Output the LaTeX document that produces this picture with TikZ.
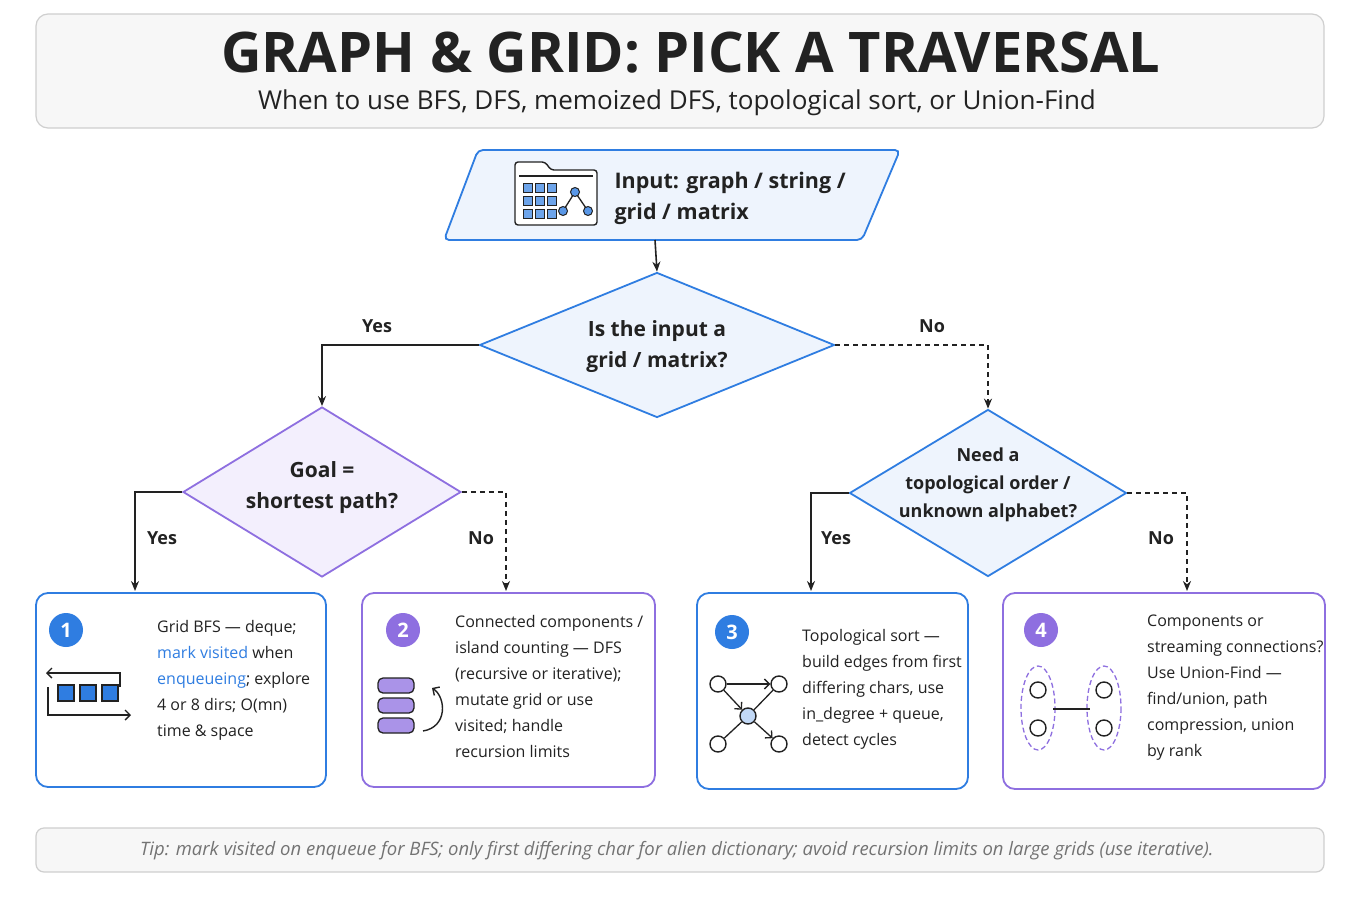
\documentclass[tikz,border=0pt]{standalone}
\usepackage{fontspec}
\setmainfont{Open Sans}
\usetikzlibrary{arrows.meta,shapes.geometric}
\definecolor{blu}{HTML}{2F7DE1}
\definecolor{blufill}{HTML}{EEF4FD}
\definecolor{pur}{HTML}{8E6FE0}
\definecolor{purfill}{HTML}{F3EFFD}
\definecolor{txt}{HTML}{222222}
\definecolor{gbord}{HTML}{CFCFCF}
\definecolor{gfill}{HTML}{F7F7F7}
\newcommand{\fs}[2]{\fontsize{#1}{#2}\selectfont}
\tikzset{
  x=1pt,y=-1pt,
  conn/.style={line width=1.6pt,draw=txt,-{Stealth[length=10pt,width=8pt]}},
  dconn/.style={conn,dash pattern=on 5pt off 4pt},
  lab/.style={text=txt,font=\fs{18}{22}\bfseries},
  card/.style={rounded corners=12pt,line width=1.8pt,fill=white},
  ctext/.style={anchor=north west,align=left,text=txt,font=\fs{16}{26},inner sep=0pt},
  badge/.style={circle,minimum size=34pt,inner sep=0pt,text=white,font=\fs{20}{24}\bfseries},
  dtext/.style={align=center,text=txt,font=\fs{21}{31}\bfseries},
  gn/.style={circle,draw=txt,line width=1.4pt,minimum size=16pt,inner sep=0pt,fill=white},
}
\begin{document}
\begin{tikzpicture}
\useasboundingbox (0,0) rectangle (1360,907);
\fill[white] (0,0) rectangle (1360,907);
% title
\draw[rounded corners=12pt,draw=gbord,fill=gfill,line width=1.2pt] (36,14) rectangle (1324,128);
\node[text=txt,font=\fs{56}{66}\bfseries] (title) at (691,53) {GRAPH \& GRID: PICK A TRAVERSAL};
\node[text=txt,font=\fs{26}{30}] (sub) at (677,103) {When to use BFS, DFS, memoized DFS, topological sort, or Union-Find};
% input
\draw[blu,fill=blufill,line width=1.8pt,rounded corners=5pt] (478,150) -- (900,150) -- (862,240) -- (444,240) -- cycle;
\coordinate (inb) at (655,240);
\node[anchor=west,align=left,text=txt,font=\fs{21.5}{31}\bfseries] (inp) at (611,198) {Input: graph / string /\\grid / matrix};
% folder icon
\draw[txt,line width=1.4pt,rounded corners=3pt,fill=white] (515,225) -- (515,162) -- (545,162) -- (551,170) -- (597,170) -- (597,225) -- cycle;
\draw[txt,line width=1.2pt] (519,176) -- (593,176);
\foreach \i in {0,1,2}{\foreach \j in {0,1,2}{
  \draw[txt,fill=blu!70,line width=0.8pt] (523+\i*12,183+\j*13) rectangle +(9,9);}}
\draw[txt,line width=1.3pt] (563,211) -- (575,192) -- (588,211);
\foreach \p in {(575,192),(563,211),(588,211)} \draw[txt,fill=blu!80,line width=1pt] \p circle (4.5);
% diamond 1
\node[diamond,aspect=2.45,draw=blu,fill=blufill,line width=1.8pt,minimum width=355pt,minimum height=145pt,inner sep=0pt] (d1) at (657,345) {};
\node[dtext] at (657,347) {Is the input a\\grid / matrix?};
\draw[conn] (inb) -- (d1.north);
% diamond 2
\node[diamond,aspect=1.62,draw=pur,fill=purfill,line width=1.8pt,minimum width=278pt,minimum height=170pt,inner sep=0pt] (d2) at (322,492) {};
\node[dtext] at (322,488) {Goal =\\shortest path?};
% diamond 3
\node[diamond,aspect=1.65,draw=blu,fill=blufill,line width=1.8pt,minimum width=277pt,minimum height=167pt,inner sep=0pt] (d3) at (988,493) {};
\node[align=center,text=txt,font=\fs{18}{28}\bfseries] at (988,485) {Need a\\topological order /\\unknown alphabet?};
% connectors
\draw[conn] (d1.west) -| (d2.north);
\node[lab] at (377,326) {Yes};
\draw[dconn] (d1.east) -| (d3.north);
\node[lab] at (932,326) {No};
% cards
\draw[card,draw=blu] (36,593) rectangle (326,787);
\draw[card,draw=pur] (362,593) rectangle (655,787);
\draw[card,draw=blu] (697,593) rectangle (968,789);
\draw[card,draw=pur] (1003,593) rectangle (1325,789);
\coordinate (c1) at (135,591); \coordinate (c2) at (506,591);
\coordinate (c3) at (811,591); \coordinate (c4) at (1187,591);
\draw[conn] (d2.west) -| (c1);
\node[lab] at (162,538) {Yes};
\draw[dconn] (d2.east) -| (c2);
\node[lab] at (481,538) {No};
\draw[conn] (d3.west) -| (c3);
\node[lab] at (836,538) {Yes};
\draw[dconn] (d3.east) -| (c4);
\node[lab] at (1161,538) {No};
% badges
\node[badge,fill=blu] (b1) at (66,630) {1};
\node[badge,fill=pur] (b2) at (403,630) {2};
\node[badge,fill=blu] (b3) at (732,632) {3};
\node[badge,fill=pur] (b4) at (1041,630) {4};
% card texts
\node[ctext] (t1) at (157,620) {Grid BFS — deque;\\\textcolor{blu}{mark visited} when\\\textcolor{blu}{enqueueing}; explore\\4 or 8 dirs; O(mn)\\time \& space};
\node[ctext] (t2) at (455,615) {Connected components /\\island counting — DFS\\(recursive or iterative);\\mutate grid or use\\visited; handle\\recursion limits};
\node[ctext] (t3) at (802,629) {Topological sort —\\build edges from first\\differing chars, use\\in\_degree + queue,\\detect cycles};
\node[ctext] (t4) at (1147,615) {Components or\\streaming connections?\\Use Union-Find —\\find/union, path\\compression, union\\by rank};
% icon 1 queue
\foreach \x in {58,80,102}\draw[txt,fill=blu,line width=1.2pt] (\x,685) rectangle +(16,16);
\draw[txt,line width=1.4pt,-{Straight Barb[length=5pt]}] (120,687) -- (120,673) -- (46,673);
\draw[txt,line width=1.4pt,-{Straight Barb[length=5pt]}] (48,687) -- (48,715) -- (131,715);
% icon 2 db
\foreach \y in {678,698,718}{
  \draw[txt,fill=pur!75,line width=1.3pt,rounded corners=5pt] (378,\y) rectangle (414,\y+15);}
\draw[txt,line width=1.4pt,-{Straight Barb[length=5pt]}] (423,731) .. controls (448,727) and (446,697) .. (432,688);
% icon 3 graph
\node[gn] (g1) at (718,684) {};
\node[gn] (g2) at (779,684) {};
\node[gn,fill=blu!30] (g3) at (748,716) {};
\node[gn] (g4) at (718,744) {};
\node[gn] (g5) at (779,744) {};
\draw[txt,line width=1.3pt,-{Straight Barb[length=5pt]}] (g1) -- (g2);
\draw[txt,line width=1.3pt,-{Straight Barb[length=5pt]}] (g1) -- (g3);
\draw[txt,line width=1.3pt] (g3) -- (g2);
\draw[txt,line width=1.3pt] (g3) -- (g4);
\draw[txt,line width=1.3pt,-{Straight Barb[length=5pt]}] (g3) -- (g5);
% icon 4 union find
\draw[pur,line width=1.3pt,dash pattern=on 5pt off 3pt] (1038,708) ellipse (17 and 42);
\draw[pur,line width=1.3pt,dash pattern=on 5pt off 3pt] (1104,708) ellipse (17 and 42);
\node[gn] (u1) at (1038,690) {};
\node[gn] (u2) at (1038,728) {};
\node[gn] (u3) at (1104,690) {};
\node[gn] (u4) at (1104,728) {};
\draw[txt,line width=1.3pt] (1053,709) -- (1090,709);
% tip
\draw[rounded corners=8pt,draw=gbord,fill=gfill,line width=1.2pt] (36,828) rectangle (1324,872);
\node[text=black!55,font=\fs{18.5}{22}\itshape] (tip) at (677,851) {Tip: mark visited on enqueue for BFS; only first differing char for alien dictionary; avoid recursion limits on large grids (use iterative).};
\end{tikzpicture}
\end{document}
